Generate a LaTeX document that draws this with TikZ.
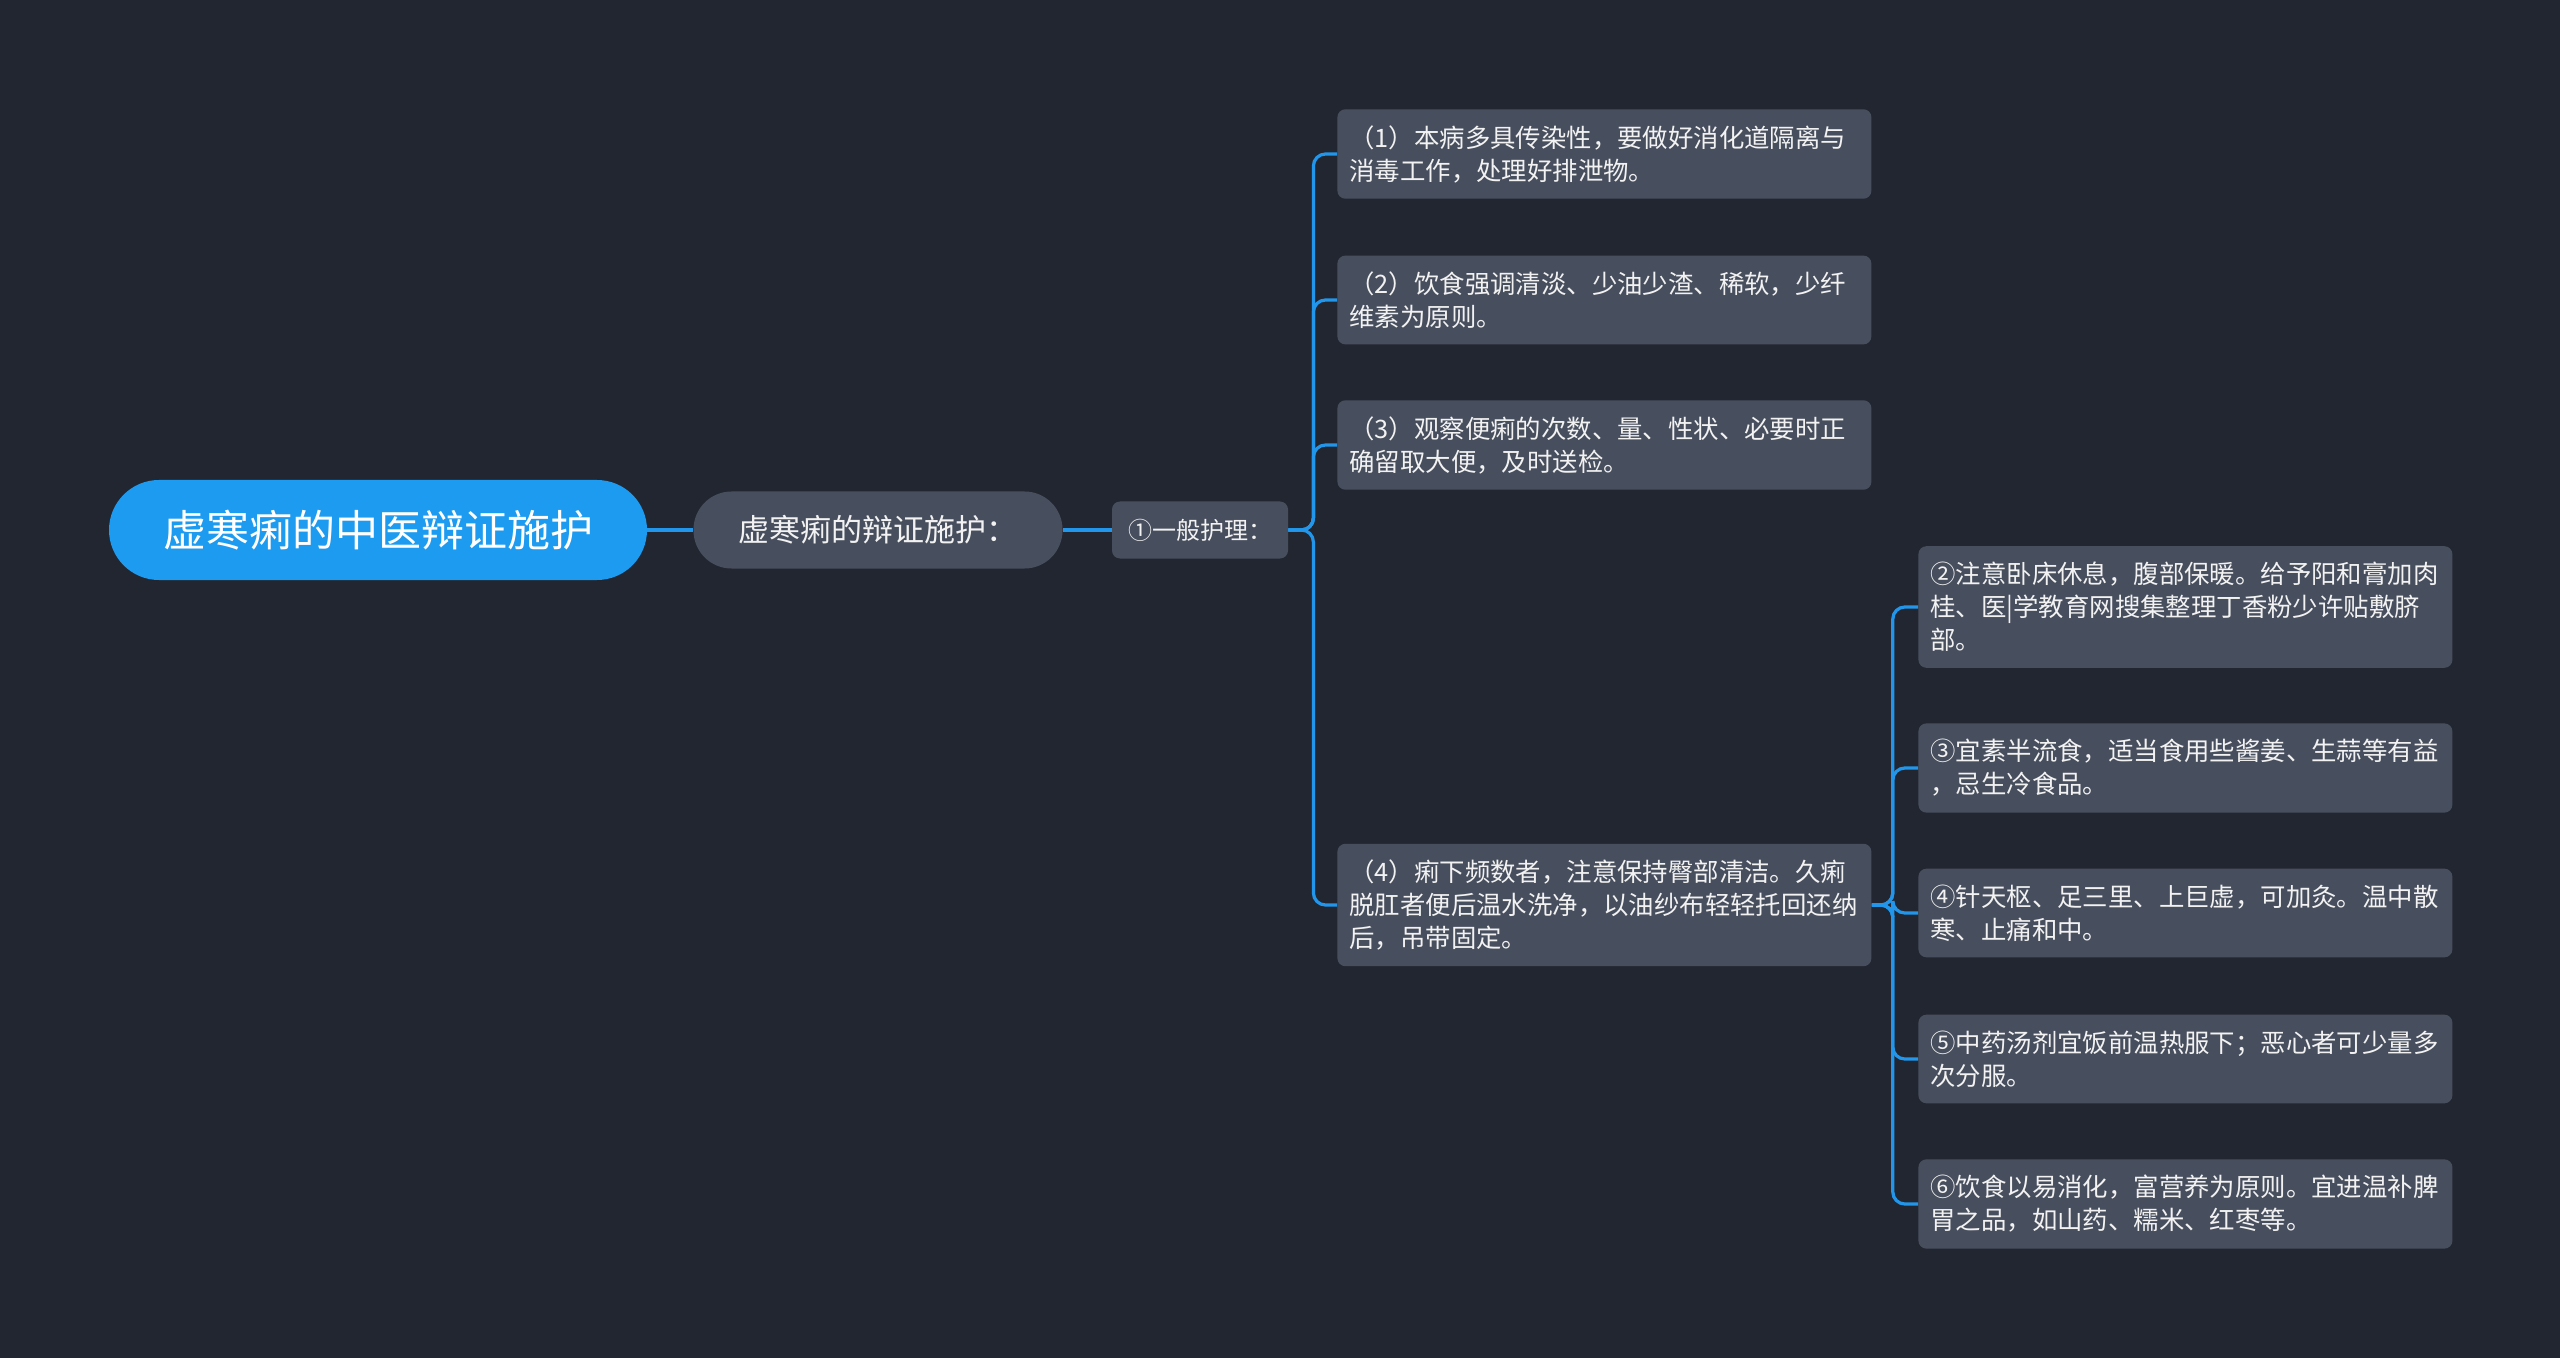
\documentclass[tikz,border=0pt]{standalone}
\usepackage{fontspec}
\setmainfont{Noto Sans CJK SC}

\definecolor{bgcol}{HTML}{222631}
\definecolor{boxcol}{HTML}{474E5D}
\definecolor{rootcol}{HTML}{1C9BF0}
\definecolor{linkcol}{HTML}{2196EA}
\definecolor{txtcol}{HTML}{F2F2F2}

\begin{document}
\begin{tikzpicture}[x=0.5pt, y=-0.5pt,
    leaf/.style={fill=boxcol, rounded corners=4pt, text=txtcol, anchor=west,
      text width=255pt, align=left, inner xsep=6pt, inner ysep=8pt,
      font=\fontsize{12.7pt}{16.5pt}\selectfont},
    link/.style={draw=linkcol, line width=1.6pt, rounded corners=6pt}]
    \fill [bgcol] (0,0) rectangle (2560,1358);
    \useasboundingbox (0,0) rectangle (2560,1358);

    % main branch
    \node [fill=rootcol, text=white, rounded corners=25pt, minimum width=269pt,
      minimum height=50pt, font=\fontsize{21.5pt}{24pt}\selectfont] (root) at (378,530) {虚寒痢的中医辩证施护};
    \node [fill=boxcol, text=txtcol, rounded corners=19pt, minimum width=184.5pt,
      minimum height=38.5pt, font=\fontsize{15.5pt}{18pt}\selectfont] (care) at (878,530) {虚寒痢的辩证施护：};
    \node [fill=boxcol, text=txtcol, rounded corners=4pt, minimum width=88pt,
      minimum height=28.5pt, font=\fontsize{12pt}{14pt}\selectfont] (general) at (1200,530) {①一般护理：};

    % first column
    \node [leaf] (a1) at (1337,154) {（1）本病多具传染性，要做好消化道隔离与\\消毒工作，处理好排泄物。};
    \node [leaf] (a2) at (1337,300) {（2）饮食强调清淡、少油少渣、稀软，少纤\\维素为原则。};
    \node [leaf] (a3) at (1337,445) {（3）观察便痢的次数、量、性状、必要时正\\确留取大便，及时送检。};
    \node [leaf] (a4) at (1337,905) {（4）痢下频数者，注意保持臀部清洁。久痢\\脱肛者便后温水洗净，以油纱布轻轻托回还纳\\后，吊带固定。};

    % second column
    \node [leaf] (b1) at (1918,607) {②注意卧床休息，腹部保暖。给予阳和膏加肉\\桂、医|学教育网搜集整理丁香粉少许贴敷脐\\部。};
    \node [leaf] (b2) at (1918,768) {③宜素半流食，适当食用些酱姜、生蒜等有益\\，忌生冷食品。};
    \node [leaf] (b3) at (1918,913) {④针天枢、足三里、上巨虚，可加灸。温中散\\寒、止痛和中。};
    \node [leaf] (b4) at (1918,1059) {⑤中药汤剂宜饭前温热服下；恶心者可少量多\\次分服。};
    \node [leaf] (b5) at (1918,1204) {⑥饮食以易消化，富营养为原则。宜进温补脾\\胃之品，如山药、糯米、红枣等。};

    \draw [link] (root) -- (care);
    \draw [link] (care) -- (general);
    \foreach \n in {a1,a2,a3,a4}
        \draw [link] (general.east) -- ++(25,0) |- (\n.west);
    \foreach \n in {b1,b2,b3,b4,b5}
        \draw [link] (a4.east) -- ++(21,0) |- (\n.west);
\end{tikzpicture}
\end{document}
